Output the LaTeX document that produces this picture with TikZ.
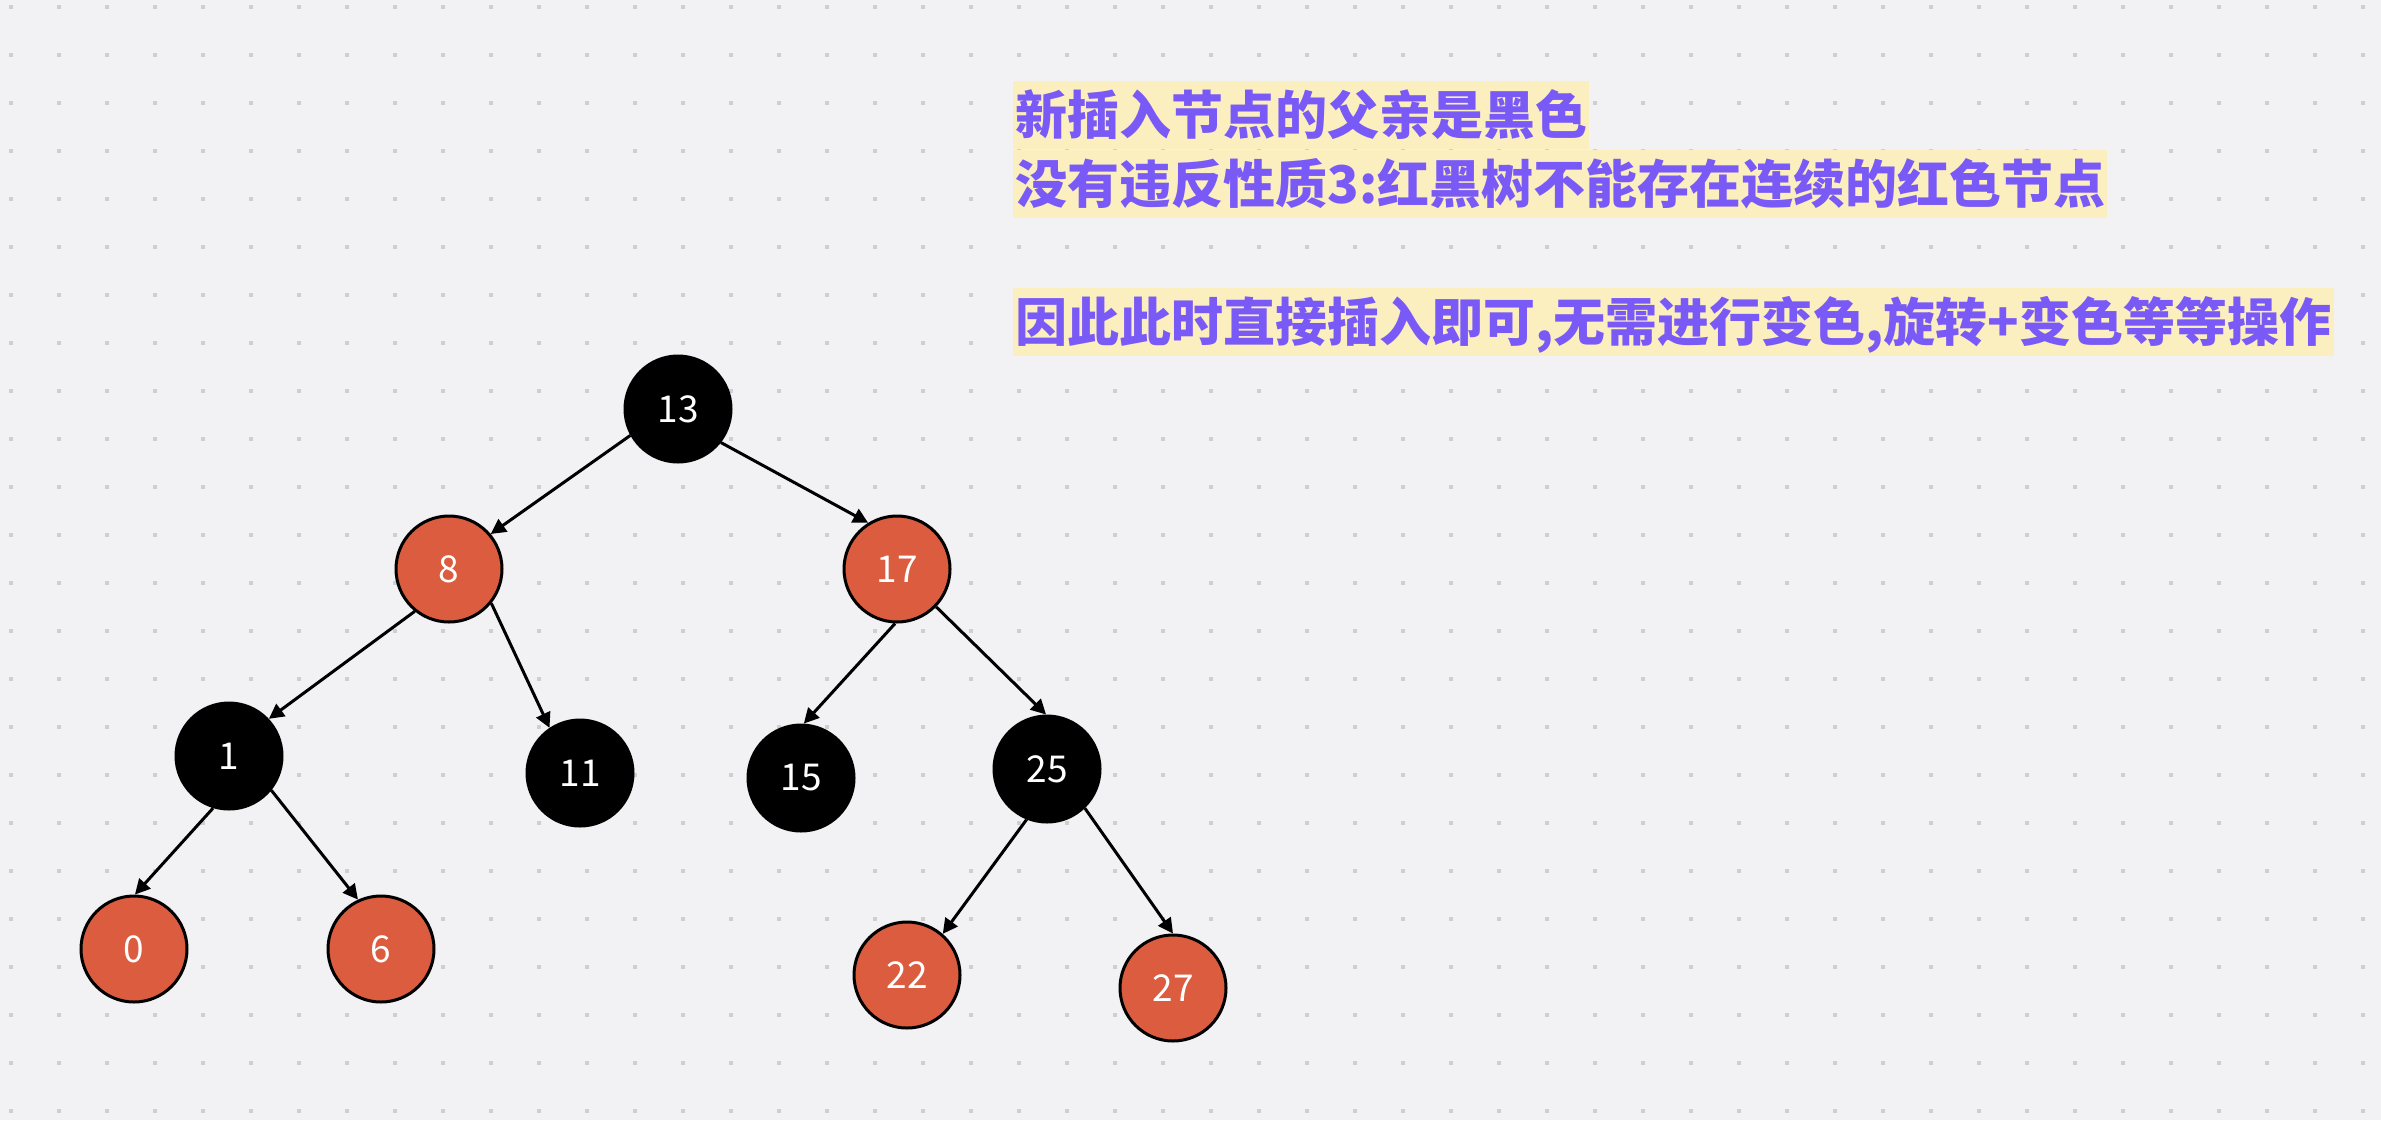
\documentclass[tikz,border=0pt]{standalone}
\usepackage{fontspec}
\newfontfamily\cjk{Noto Sans CJK SC}
\newfontfamily\numf{Noto Sans CJK SC}
\usetikzlibrary{arrows.meta}
\definecolor{bg}{HTML}{F2F2F4}
\definecolor{dotc}{HTML}{CFCFD2}
\definecolor{nred}{HTML}{DB5C3E}
\definecolor{purp}{HTML}{7A5AF6}
\definecolor{hl}{HTML}{FCEFBF}
\begin{document}
\begin{tikzpicture}[x=0.5pt,y=-0.5pt,
  rb/.style={circle, minimum size=53pt, inner sep=0pt, line width=1.5pt, draw=black, text=white, font=\numf\fontsize{18.5}{20}\selectfont},
  rnode/.style={rb, fill=nred},
  bnode/.style={rb, fill=black},
  edge/.style={line width=1.5pt, -{Triangle[length=7.5pt,width=7.5pt]}},
  note/.style={anchor=west, fill=hl, text=purp, inner xsep=1pt, inner ysep=4pt, text height=22.9pt, text depth=3.1pt, font=\cjk\bfseries\fontsize{26}{30}\selectfont}]
\fill[bg] (0,0) rectangle (2381,1120);
\useasboundingbox (0,0) rectangle (2381,1120);
\foreach \i in {0,...,49}{
  \foreach \j in {0,...,23}{
    \fill[dotc] ({11+48*\i-2},{7+48*\j-2}) rectangle ++(4,4);
  }
}
% notes
\node[note] (t1) at (1013,115) {新插入节点的父亲是黑色};
\node[note] (t2) at (1013,184) {没有违反性质3:红黑树不能存在连续的红色节点};
\node[note] (t3) at (1013,322) {因此此时直接插入即可,无需进行变色,旋转+变色等等操作};
% nodes
\node[bnode] (n13) at (678,409) {13};
\node[rnode] (n8) at (449,569) {8};
\node[rnode] (n17) at (897,569) {17};
\node[bnode] (n1) at (229,756) {1};
\node[bnode] (n11) at (580,773) {11};
\node[bnode] (n15) at (801,778) {15};
\node[bnode] (n25) at (1047,769) {25};
\node[rnode] (n0) at (134,949) {0};
\node[rnode] (n6) at (381,949) {6};
\node[rnode] (n22) at (907,975) {22};
\node[rnode] (n27) at (1173,988) {27};
% edges
\draw[edge] (n13.209) -- (n8.40);
\draw[edge] (n13.322) -- (n17.122);
\draw[edge] (n8.231) -- (n1.43);
\draw[edge] (n8.321) -- (n11.124);
\draw[edge] (n1.253) -- (n0.89);
\draw[edge] (n1.321) -- (n6.115);
\draw[edge] (n17.268) -- (n15.87);
\draw[edge] (n17.316) -- (n25.91);
\draw[edge] (n25.248) -- (n22.49);
\draw[edge] (n25.314) -- (n27.90);
\end{tikzpicture}
\end{document}
